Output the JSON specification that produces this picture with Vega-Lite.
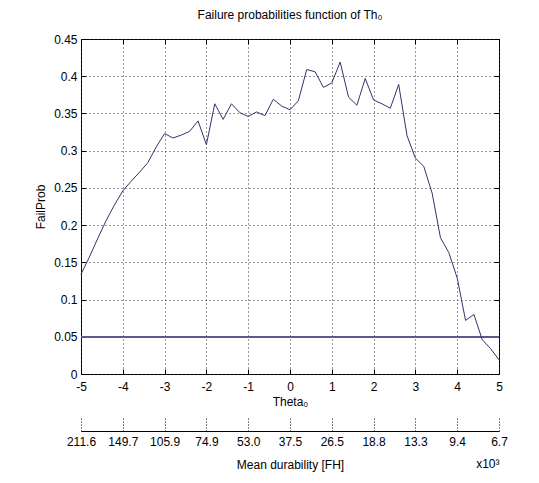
{
  "$schema": "https://vega.github.io/schema/vega-lite/v6.json",
  "width": 418,
  "height": 335,
  "autosize": "none",
  "padding": {"left": 81, "top": 39, "right": 40, "bottom": 109},
  "background": "white",
  "title": {
    "text": "Failure probabilities function of Th₀",
    "frame": "group",
    "anchor": "middle",
    "fontSize": 12,
    "fontWeight": "normal",
    "font": "Liberation Sans",
    "color": "black",
    "baseline": "alphabetic",
    "offset": 2
  },
  "data": {
    "values": [
      {"theta": -5.0, "p": 0.134}, {"theta": -4.8, "p": 0.157}, {"theta": -4.6, "p": 0.182},
      {"theta": -4.4, "p": 0.206}, {"theta": -4.2, "p": 0.227}, {"theta": -4.0, "p": 0.246},
      {"theta": -3.8, "p": 0.259}, {"theta": -3.6, "p": 0.271}, {"theta": -3.4, "p": 0.284},
      {"theta": -3.2, "p": 0.305}, {"theta": -3.0, "p": 0.323}, {"theta": -2.8, "p": 0.317},
      {"theta": -2.6, "p": 0.321}, {"theta": -2.4, "p": 0.326}, {"theta": -2.2, "p": 0.340},
      {"theta": -2.0, "p": 0.308}, {"theta": -1.8, "p": 0.363}, {"theta": -1.6, "p": 0.342},
      {"theta": -1.4, "p": 0.363}, {"theta": -1.2, "p": 0.351}, {"theta": -1.0, "p": 0.346},
      {"theta": -0.8, "p": 0.352}, {"theta": -0.6, "p": 0.347}, {"theta": -0.4, "p": 0.369},
      {"theta": -0.2, "p": 0.360}, {"theta": 0.0, "p": 0.355}, {"theta": 0.2, "p": 0.367},
      {"theta": 0.4, "p": 0.409}, {"theta": 0.6, "p": 0.406}, {"theta": 0.8, "p": 0.385},
      {"theta": 1.0, "p": 0.391}, {"theta": 1.2, "p": 0.419}, {"theta": 1.4, "p": 0.372},
      {"theta": 1.6, "p": 0.361}, {"theta": 1.8, "p": 0.397}, {"theta": 2.0, "p": 0.368},
      {"theta": 2.2, "p": 0.363}, {"theta": 2.4, "p": 0.357}, {"theta": 2.6, "p": 0.389},
      {"theta": 2.8, "p": 0.320}, {"theta": 3.0, "p": 0.290}, {"theta": 3.2, "p": 0.279},
      {"theta": 3.4, "p": 0.243}, {"theta": 3.6, "p": 0.183}, {"theta": 3.8, "p": 0.163},
      {"theta": 4.0, "p": 0.129}, {"theta": 4.2, "p": 0.072}, {"theta": 4.4, "p": 0.080},
      {"theta": 4.6, "p": 0.046}, {"theta": 4.8, "p": 0.034}, {"theta": 5.0, "p": 0.019}
    ]
  },
  "layer": [
    {
      "mark": {"type": "rule", "color": "#5a5a8e", "strokeWidth": 1.5},
      "encoding": {
        "x": {
          "datum": -5,
          "type": "quantitative",
          "axis": {
            "orient": "bottom",
            "offset": 57,
            "values": [-5, -4, -3, -2, -1, 0, 1, 2, 3, 4, 5],
            "labelExpr": "['211.6','149.7','105.9','74.9','53.0','37.5','26.5','18.8','13.3','9.4','6.7'][datum.value + 5]",
            "labelOverlap": false,
            "labelFlush": false,
            "labelBound": false,
            "domain": true,
            "domainColor": "black",
            "tickSize": -13,
            "tickDash": [1, 2],
            "labelPadding": 18,
            "grid": false,
            "title": "Mean durability [FH]",
            "titlePadding": 12
          }
        },
        "x2": {"datum": 5},
        "y": {
          "datum": 0.05,
          "type": "quantitative",
          "axis": {
            "orient": "right",
            "values": [0, 0.05, 0.1, 0.15, 0.2, 0.25, 0.3, 0.35, 0.4, 0.45],
            "labels": false,
            "domain": false,
            "grid": false,
            "tickSize": -5,
            "title": null
          }
        }
      }
    },
    {
      "mark": {"type": "line", "color": "#33336e", "strokeWidth": 1},
      "encoding": {
        "x": {
          "field": "theta",
          "type": "quantitative",
          "scale": {"domain": [-5, 5], "nice": false, "zero": false},
          "axis": {
            "orient": "bottom",
            "values": [-5, -4, -3, -2, -1, 0, 1, 2, 3, 4, 5],
            "labelExpr": "toString(datum.value)",
            "labelFlush": false,
            "labelOverlap": false,
            "domain": false,
            "tickSize": -5,
            "labelPadding": 12,
            "grid": true,
            "gridColor": "#333333",
            "gridDash": [1, 3],
            "gridOpacity": 1,
            "title": "Theta₀",
            "titlePadding": 4
          }
        },
        "y": {
          "field": "p",
          "type": "quantitative",
          "scale": {"domain": [0, 0.45], "nice": false, "zero": false},
          "axis": {
            "orient": "left",
            "values": [0, 0.05, 0.1, 0.15, 0.2, 0.25, 0.3, 0.35, 0.4, 0.45],
            "format": ".2~f",
            "labelFlush": false,
            "labelOverlap": false,
            "domain": false,
            "tickSize": -5,
            "labelPadding": 9,
            "grid": true,
            "gridColor": "#333333",
            "gridDash": [1, 3],
            "gridOpacity": 1,
            "title": "FailProb",
            "titlePadding": 6
          }
        }
      }
    },
    {
      "mark": {"type": "line", "strokeOpacity": 0},
      "encoding": {
        "x": {
          "field": "theta",
          "type": "quantitative",
          "axis": {
            "orient": "bottom",
            "offset": 57,
            "labels": false,
            "ticks": false,
            "domain": false,
            "grid": false,
            "title": "x10³",
            "titleAnchor": "end",
            "titlePadding": 27
          }
        },
        "y": {"field": "p", "type": "quantitative", "axis": null}
      }
    },
    {
      "mark": {"type": "line", "strokeOpacity": 0},
      "encoding": {
        "x": {
          "field": "theta",
          "type": "quantitative",
          "axis": {
            "orient": "top",
            "values": [-5, -4, -3, -2, -1, 0, 1, 2, 3, 4, 5],
            "labels": false,
            "domain": false,
            "grid": false,
            "tickSize": -5,
            "title": null
          }
        },
        "y": {"field": "p", "type": "quantitative", "axis": null}
      }
    }
  ],
  "resolve": {"axis": {"x": "independent", "y": "independent"}},
  "config": {
    "font": "Liberation Sans",
    "view": {"stroke": "black", "strokeWidth": 1},
    "axis": {
      "labelFont": "Liberation Sans",
      "titleFont": "Liberation Sans",
      "labelFontSize": 12,
      "titleFontSize": 12,
      "titleFontWeight": "normal",
      "labelColor": "black",
      "titleColor": "black",
      "tickColor": "black",
      "domainColor": "black"
    }
  }
}
